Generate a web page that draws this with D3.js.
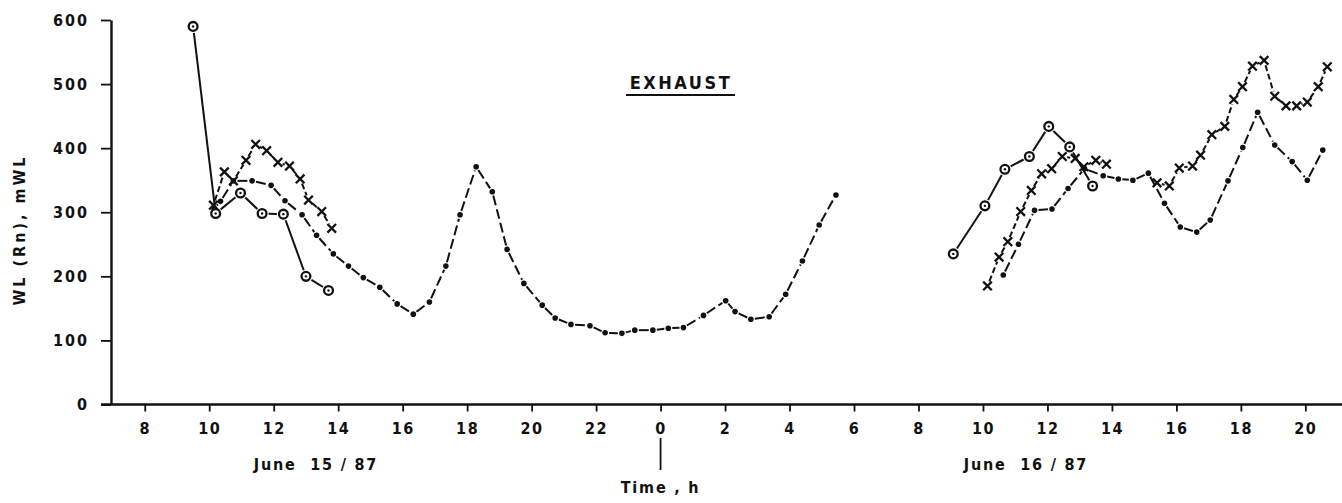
<!DOCTYPE html>
<html>
<head>
<meta charset="utf-8">
<script src="https://cdn.jsdelivr.net/npm/d3@7"></script>
<style>
  html, body { margin: 0; padding: 0; background: #fff; }
  svg { display: block; }
  text { font-family: "DejaVu Sans Condensed", "DejaVu Sans", sans-serif; font-weight: bold; fill: #111; }
</style>
</head>
<body>
<svg id="chart" width="1342" height="503"></svg>
<script>
// ---- data (hours counted from 0 h June 15; June 16 hours = h + 24) ----
const xTickValues = [8,10,12,14,16,18,20,22,24,26,28,30,32,34,36,38,40,42,44];
const xTickLabels = ["8","10","12","14","16","18","20","22","0","2","4","6","8","10","12","14","16","18","20"];
const yTickValues = [0,100,200,300,400,500,600];

const circleDay1 = [[9.5,590],[10.2,298],[10.97,330],[11.64,298],[12.3,297],[13.0,200],[13.7,178]];
const crossDay1 = [[10.13,311],[10.47,363],[10.75,349],[11.14,381],[11.44,406],[11.78,396],[12.13,378],[12.49,372],[12.82,352],[13.08,319],[13.49,301],[13.8,275]];
const dotLong = [[10.15,306],[10.35,317],[10.75,349],[11.33,349],[11.92,342],[12.35,318],[12.88,296],[13.33,264],[13.85,235],[14.32,216],[14.78,198],[15.29,183],[15.83,157],[16.33,141],[16.83,160],[17.34,216],[17.78,296],[18.28,371],[18.78,332],[19.24,242],[19.76,189],[20.33,155],[20.73,135],[21.22,125],[21.81,123],[22.28,112],[22.8,111],[23.2,116],[23.76,116],[24.24,119],[24.71,120],[25.33,139],[26.02,162],[26.31,145],[26.8,133],[27.37,137],[27.88,172],[28.4,224],[28.92,280],[29.44,327]];
const circleDay2 = [[33.08,235],[34.06,310],[34.68,367],[35.44,387],[36.04,434],[36.69,402],[37.4,341]];
const crossDay2a = [[34.14,185],[34.5,230],[34.77,254],[35.17,301],[35.5,334],[35.82,360],[36.13,368],[36.46,387],[36.86,384],[37.13,371],[37.5,381],[37.83,375]];
const crossDay2b = [[39.4,346],[39.78,341],[40.09,369],[40.5,372],[40.75,389],[41.1,421],[41.5,434],[41.78,476],[42.05,496],[42.36,528],[42.72,537],[43.05,481],[43.4,466],[43.73,466],[44.06,472],[44.4,496],[44.68,527]];
const dotDay2 = [[34.63,202],[35.1,250],[35.6,303],[36.14,305],[36.64,337],[37.15,368],[37.73,357],[38.2,352],[38.65,350],[39.13,361],[39.63,314],[40.12,277],[40.63,269],[41.05,288],[41.6,349],[42.06,401],[42.52,456],[43.05,405],[43.59,379],[44.06,350],[44.54,397]];

const titleText = "EXHAUST";
const yLabel = "WL (Rn), mWL";
const day1Label = "June  15 / 87";
const day2Label = "June  16 / 87";
const timeLabel = "Time , h";

// ---- layout ----
const svg = d3.select("#chart");
const x = d3.scaleLinear().domain([7, 45]).range([112.5, 1337.6]);
const y = d3.scaleLinear().domain([0, 600]).range([404.5, 20]);
const ink = "#111";

// axes
const gx = svg.append("g").attr("transform", `translate(0,${y(0)})`)
  .call(d3.axisBottom(x).tickValues(xTickValues)
    .tickFormat((d,i) => xTickLabels[i]).tickSize(7).tickSizeOuter(0).tickPadding(11));
gx.select(".domain").remove();
gx.append("line").attr("x1", 101).attr("x2", 1342).attr("y1", 0).attr("y2", 0)
  .attr("stroke", ink).attr("stroke-width", 2.4);
gx.selectAll(".tick line").attr("stroke", ink).attr("stroke-width", 1.8);
gx.selectAll(".tick text").attr("font-size", 16).attr("letter-spacing", 1.5).attr("fill", ink);

const gy = svg.append("g").attr("transform", `translate(111,0)`)
  .call(d3.axisLeft(y).tickValues(yTickValues).tickSize(10).tickSizeOuter(0).tickPadding(12));
gy.select(".domain").attr("stroke", ink).attr("stroke-width", 2.4);
gy.selectAll(".tick line").attr("stroke", ink).attr("stroke-width", 1.8);
gy.selectAll(".tick text").attr("font-size", 16).attr("letter-spacing", 2).attr("fill", ink);

// labels
svg.append("text").attr("transform", "translate(25,230) rotate(-90)")
  .attr("text-anchor", "middle").attr("font-size", 16).attr("letter-spacing", 3).text(yLabel);
svg.append("text").attr("x", 316).attr("y", 470).attr("text-anchor", "middle")
  .attr("font-size", 16).attr("letter-spacing", 1.8).style("white-space", "pre").text(day1Label);
svg.append("text").attr("x", 1026).attr("y", 470).attr("text-anchor", "middle")
  .attr("font-size", 16).attr("letter-spacing", 1.8).style("white-space", "pre").text(day2Label);
svg.append("line").attr("x1", x(24)).attr("x2", x(24)).attr("y1", 438).attr("y2", 470)
  .attr("stroke", ink).attr("stroke-width", 1.8);
svg.append("text").attr("x", x(24)).attr("y", 493).attr("text-anchor", "middle")
  .attr("font-size", 16).attr("letter-spacing", 1.8).style("white-space", "pre").text(timeLabel);
svg.append("text").attr("x", 681).attr("y", 89).attr("text-anchor", "middle")
  .attr("font-size", 18).attr("font-weight", "normal").attr("letter-spacing", 2.5).text(titleText);
svg.append("line").attr("x1", 626).attr("x2", 735).attr("y1", 95).attr("y2", 95)
  .attr("stroke", ink).attr("stroke-width", 2);

// ---- series drawing ----
function drawSegments(data, gap, dash) {
  const pts = data.map(d => [x(d[0]), y(d[1])]);
  const g = svg.append("g");
  for (let i = 0; i < pts.length - 1; i++) {
    const [ax, ay] = pts[i], [bx, by] = pts[i+1];
    const dx = bx - ax, dy = by - ay, len = Math.hypot(dx, dy);
    if (len <= 2 * gap + 1) continue;
    const ux = dx / len, uy = dy / len;
    g.append("line")
      .attr("x1", ax + ux * gap).attr("y1", ay + uy * gap)
      .attr("x2", bx - ux * gap).attr("y2", by - uy * gap)
      .attr("stroke", ink).attr("stroke-width", 2)
      .attr("stroke-dasharray", dash || null);
  }
}
function drawCircles(data) {
  const g = svg.append("g");
  g.selectAll("circle.o").data(data).join("circle")
    .attr("cx", d => x(d[0])).attr("cy", d => y(d[1])).attr("r", 4.4)
    .attr("fill", "#fff").attr("stroke", ink).attr("stroke-width", 2.3);
  g.selectAll("circle.c").data(data).join("circle").attr("class","c")
    .attr("cx", d => x(d[0])).attr("cy", d => y(d[1])).attr("r", 1.2).attr("fill", ink);
}
function drawCrosses(data) {
  const s = 4.3;
  svg.append("g").selectAll("path").data(data).join("path")
    .attr("d", d => { const cx = x(d[0]), cy = y(d[1]);
      return `M${cx-s},${cy-s}L${cx+s},${cy+s}M${cx-s},${cy+s}L${cx+s},${cy-s}`; })
    .attr("stroke", ink).attr("stroke-width", 2.3).attr("fill", "none");
}
function drawDots(data) {
  svg.append("g").selectAll("circle").data(data).join("circle")
    .attr("cx", d => x(d[0])).attr("cy", d => y(d[1])).attr("r", 2.8).attr("fill", ink);
}

drawSegments(dotLong, 4, "10,4");
drawSegments(dotDay2, 4, "10,4");
drawSegments(crossDay1, 5, "6,3");
drawSegments(crossDay2a, 5, "6,3");
drawSegments(crossDay2b, 5, "6,3");
drawSegments(circleDay1, 6.5, null);
drawSegments(circleDay2, 6.5, null);
drawDots(dotLong);
drawDots(dotDay2);
drawCrosses(crossDay1);
drawCrosses(crossDay2a);
drawCrosses(crossDay2b);
drawCircles(circleDay1);
drawCircles(circleDay2);
</script>
</body>
</html>
